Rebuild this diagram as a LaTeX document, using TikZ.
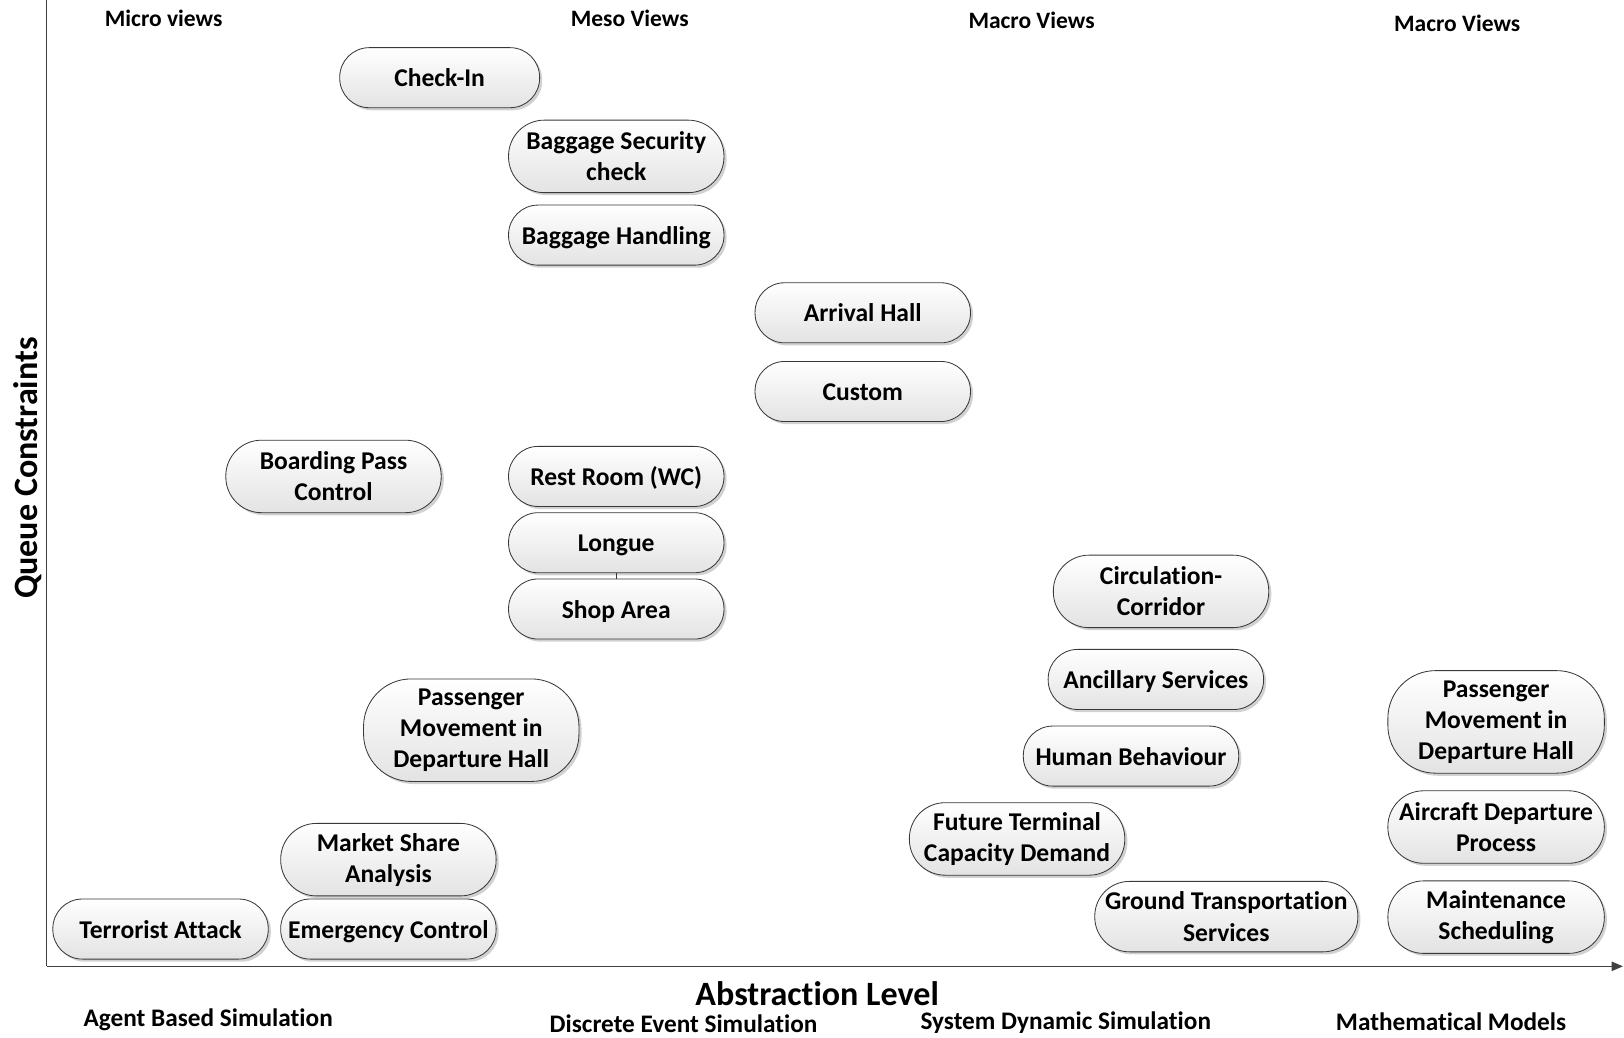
\documentclass[tikz,border=0pt]{standalone}
\usepackage{fontspec}
\setmainfont{Carlito}[Ligatures=NoCommon]
\usetikzlibrary{shadows,arrows.meta}
\newcommand\boxfont{\fontsize{24.7}{30}\selectfont\bfseries}
\newcommand\headfont{\fontsize{22.7}{27}\selectfont\bfseries}
\newcommand\axisfont{\fontsize{32.9}{38}\selectfont\bfseries}
\newcommand\methodfont{\fontsize{24.4}{29}\selectfont\bfseries}
\begin{document}
\begin{tikzpicture}[x=1pt,y=-1pt,
  box/.style={draw=black!78, line width=0.8pt, rounded corners=28.5pt,
    minimum width=208pt, minimum height=58pt, inner sep=1pt, align=center,
    top color=white, bottom color=black!11, font=\boxfont,
    drop shadow={shadow xshift=2.5pt, shadow yshift=-2.5pt, fill=black!40, opacity=0.45}},
  oneline/.style={text height=17.5pt, text depth=0pt},
  twoline/.style={rounded corners=34.5pt, minimum height=70pt},
  threeline/.style={rounded corners=46pt, minimum height=99pt},
  head/.style={font=\headfont, inner sep=0pt},
  method/.style={font=\methodfont, inner sep=0pt},
  axisline/.style={draw=black!75, line width=1.4pt}]
\useasboundingbox (0,0) rectangle (1568,1002);

% axes
\coordinate (origin) at (45,933);
\coordinate (ytop) at (45,0);
\coordinate (xend) at (1567,933);
\draw[axisline] (ytop) -- (origin);
\draw[axisline, -{Triangle[length=11pt,width=9pt]}] (origin) -- (xend);

\node[font=\axisfont, rotate=90] (qc) at (27,452) {Queue Constraints};
\node[font=\axisfont] (al) at (789,959) {Abstraction Level};

% view headers
\node[head] (h1) at (158,18) {Micro views};
\node[head] (h2) at (608,18) {Meso Views};
\node[head] (h3) at (996,20) {Macro Views};
\node[head] (h4) at (1407,23) {Macro Views};

% simulation methods
\node[method] (m1) at (201,985) {Agent Based Simulation};
\node[method] (m2) at (660,988) {Discrete Event Simulation};
\node[method] (m3) at (1029,987) {System Dynamic Simulation};
\node[method] (m4) at (1401,986) {Mathematical Models};

% activities
\node[box, oneline, minimum width=193pt] (checkin) at (424.5,75) {Check-In};
\node[box, twoline] (bagsec) at (595,151) {Baggage Security\\check};
\node[box, oneline] (baghand) at (595,227) {Baggage Handling};
\node[box, oneline] (arrival) at (833,302) {Arrival Hall};
\node[box, oneline] (custom) at (833,378) {Custom};
\node[box, twoline] (boarding) at (322,460) {Boarding Pass\\Control};
\node[box, oneline] (restroom) at (595,460) {Rest Room (WC)};
\node[box, oneline] (longue) at (595,524) {Longue};
\node[box, oneline] (shop) at (595,588) {Shop Area};
\draw[draw=black!78, line width=0.8pt] (longue.south) -- (shop.north);
\node[box, twoline] (circ) at (1121,571) {Circulation-\\Corridor};
\node[box, oneline] (ancillary) at (1116,656) {Ancillary Services};
\node[box, oneline] (human) at (1092,730) {Human Behaviour};
\node[box, threeline] (paxleft) at (455,705) {Passenger\\Movement in\\Departure Hall};
\node[box, twoline] (future) at (982,810) {Future Terminal\\Capacity Demand};
\node[box, twoline] (market) at (375,830) {Market Share\\Analysis};
\node[box, oneline] (terror) at (155,897) {Terrorist Attack};
\node[box, oneline] (emergency) at (375,897) {Emergency Control};
\node[box, twoline, minimum width=254pt, minimum height=68pt, rounded corners=33.5pt] (ground) at (1184,885) {Ground Transportation\\Services};
\node[box, threeline, minimum width=209pt] (paxright) at (1444.5,697) {Passenger\\Movement in\\Departure Hall};
\node[box, twoline, minimum width=209pt] (aircraft) at (1444.5,798.5) {Aircraft Departure\\Process};
\node[box, twoline, minimum width=209pt] (maint) at (1444.5,885.5) {Maintenance\\Scheduling};
\end{tikzpicture}
\end{document}
